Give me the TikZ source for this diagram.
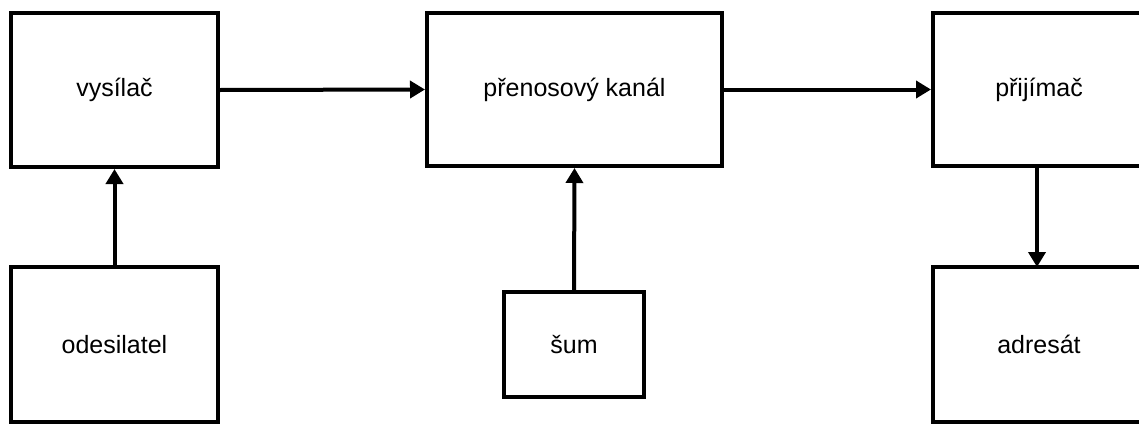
\documentclass[tikz,border=0pt]{standalone}
\usepackage{fontspec}
\setmainfont{Liberation Sans}
\usetikzlibrary{arrows.meta}
\begin{document}
\begin{tikzpicture}[x=1pt,y=-1pt,
  blok/.style={draw=black,line width=4pt,fill=white,rectangle,inner sep=0pt,
    font=\fontsize{25}{30}\selectfont},
  sipka/.style={line width=4pt,-{Triangle[width=17pt,length=15pt]}}]
\useasboundingbox (0,0) rectangle (1139,423);
\node[blok,minimum width=207pt,minimum height=154pt] (vys) at (114.5,90) {vysílač};
\node[blok,minimum width=295pt,minimum height=153pt] (kan) at (574.5,89.5) {přenosový kanál};
\node[blok,minimum width=212pt,minimum height=153pt] (pri) at (1039,89.5) {přijímač};
\node[blok,minimum width=207pt,minimum height=155pt] (ode) at (114.5,344.5) {odesilatel};
\node[blok,minimum width=140pt,minimum height=105pt] (sum) at (574,344.5) {šum};
\node[blok,minimum width=212pt,minimum height=155pt] (adr) at (1039,344.5) {adresát};
\coordinate (priS) at (1037,166);
\coordinate (adrN) at (1037,267);
\draw[sipka] (vys.east) -- (kan.west);
\draw[sipka] (kan.east) -- (pri.west);
\draw[sipka] (ode.north) -- (vys.south);
\draw[sipka] (sum.north) -- (kan.south);
\draw[sipka] (priS) -- (adrN);
\end{tikzpicture}
\end{document}
